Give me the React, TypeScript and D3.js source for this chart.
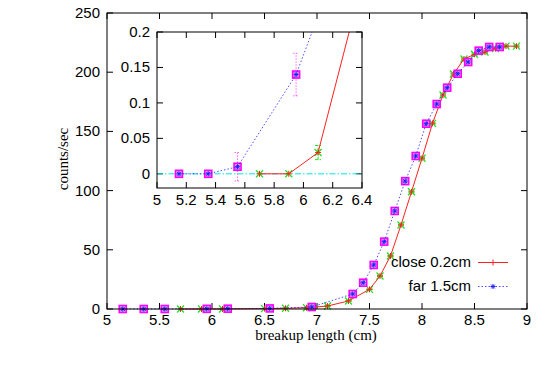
import React from "react";
import * as d3 from "d3";

const closeX = [5.7, 5.9, 6.1, 6.5, 6.7, 6.9, 7.1, 7.3, 7.5, 7.6, 7.7, 7.8, 7.9, 8.0, 8.1, 8.2, 8.3, 8.4, 8.5, 8.6, 8.7, 8.8, 8.9];
const closeY = [0, 0, 0.03, 0.35, 0.6, 1.1, 2.5, 6.8, 16.6, 27.9, 44.8, 71, 99, 127.3, 156.8, 180.7, 198.5, 211.1, 215.1, 217, 219.9, 222, 222];
const closeErr = [0, 0, 0.01, 0.05, 0.08, 0.1, 0.15, 0.25, 0.4, 0.5, 0.6, 0.7, 0.8, 0.9, 0.9, 1, 1, 1, 1, 1, 1, 1, 1];

const farX = [5.15, 5.35, 5.55, 5.95, 6.15, 6.55, 6.95, 7.34, 7.44, 7.54, 7.64, 7.74, 7.84, 7.94, 8.04, 8.14, 8.24, 8.34, 8.44, 8.54, 8.64, 8.74];
const farY = [0, 0, 0.01, 0.14, 0.25, 0.5, 1.7, 12.7, 22.2, 37.2, 56.9, 82.8, 108, 129.2, 156.5, 173.1, 186.9, 198.7, 208.6, 218.2, 221.3, 221.3];
const farErr = [0, 0, 0.02, 0.03, 0.03, 0.08, 0.15, 0.35, 0.45, 0.55, 0.7, 0.8, 0.9, 0.9, 1, 1, 1, 1, 1, 1, 1, 1];

const mainXTicks = [5, 5.5, 6, 6.5, 7, 7.5, 8, 8.5, 9];
const mainYTicks = [0, 50, 100, 150, 200, 250];
const insetXTicks = [5, 5.2, 5.4, 5.6, 5.8, 6, 6.2, 6.4];
const insetYTicks = [0, 0.05, 0.1, 0.15, 0.2];

const legendLabels = ["close 0.2cm", "far 1.5cm"];

const RED = "#ff2020";
const GREEN = "#20e020";
const BLUE = "#2020ff";
const MAGENTA = "#ff00ff";
const CYAN = "#00e8e8";
const SANS = "'Liberation Sans', Arial, sans-serif";
const SERIF = "'Liberation Serif', 'Times New Roman', serif";

type Pt = { x: number; y: number; e: number };
const closePts: Pt[] = closeX.map((x, i) => ({ x, y: closeY[i], e: closeErr[i] }));
const farPts: Pt[] = farX.map((x, i) => ({ x, y: farY[i], e: farErr[i] }));

function Plus({ cx, cy, c, s = 4 }: any) {
  return <path d={`M${cx - s},${cy}H${cx + s}M${cx},${cy - s}V${cy + s}`} stroke={c} strokeWidth={1} fill="none" />;
}
function Cross({ cx, cy, c, s = 3.5 }: any) {
  return <path d={`M${cx - s},${cy - s}L${cx + s},${cy + s}M${cx - s},${cy + s}L${cx + s},${cy - s}`} stroke={c} strokeWidth={1.3} fill="none" />;
}
function Star({ cx, cy, c, s = 3.5 }: any) {
  return (
    <path
      d={`M${cx - s},${cy}H${cx + s}M${cx},${cy - s}V${cy + s}M${cx - s * 0.75},${cy - s * 0.75}L${cx + s * 0.75},${cy + s * 0.75}M${cx - s * 0.75},${cy + s * 0.75}L${cx + s * 0.75},${cy - s * 0.75}`}
      stroke={c}
      strokeWidth={1}
      fill="none"
    />
  );
}
function Square({ cx, cy, c, s = 3.5 }: any) {
  return <rect x={cx - s} y={cy - s} width={2 * s} height={2 * s} stroke={c} strokeWidth={1.6} fill="#c070f0" fillOpacity={0.6} />;
}

function Series({ xs, ys, clipId }: any) {
  const line = d3.line<Pt>().x((d) => xs(d.x)).y((d) => ys(d.y));
  return (
    <g clipPath={clipId ? `url(#${clipId})` : undefined}>
      {closePts.map((d, i) => {
        const y1 = ys(d.y - d.e), y2 = ys(d.y + d.e), cx = xs(d.x);
        return (
          <g key={"ce" + i}>
            {d.e > 0 && (
              <path d={`M${cx},${y1}V${y2}M${cx - 3},${y1}H${cx + 3}M${cx - 3},${y2}H${cx + 3}`} stroke={GREEN} strokeWidth={1} strokeDasharray="3,1.5" fill="none" />
            )}
            <Cross cx={cx} cy={ys(d.y)} c={GREEN} />
          </g>
        );
      })}
      <path d={line(closePts) || ""} stroke={RED} strokeWidth={1} fill="none" />
      {closePts.map((d, i) => (
        <Plus key={"cp" + i} cx={xs(d.x)} cy={ys(d.y)} c={RED} s={3} />
      ))}
      {farPts.map((d, i) => {
        const y1 = ys(d.y - d.e), y2 = ys(d.y + d.e), cx = xs(d.x);
        return (
          <g key={"fe" + i}>
            {d.e > 0 && (
              <path d={`M${cx},${y1}V${y2}M${cx - 3},${y1}H${cx + 3}M${cx - 3},${y2}H${cx + 3}`} stroke={MAGENTA} strokeOpacity={0.6} strokeWidth={1} strokeDasharray="1.5,1.5" fill="none" />
            )}
            <Square cx={cx} cy={ys(d.y)} c={MAGENTA} />
          </g>
        );
      })}
      <path d={line(farPts) || ""} stroke={BLUE} strokeOpacity={0.8} strokeWidth={1} strokeDasharray="1.5,2" fill="none" />
      {farPts.map((d, i) => (
        <Star key={"fp" + i} cx={xs(d.x)} cy={ys(d.y)} c={BLUE} s={2.5} />
      ))}
    </g>
  );
}

export default function App() {
  const W = 545, H = 382;
  const mx = d3.scaleLinear().domain([5, 9]).range([107, 527]);
  const my = d3.scaleLinear().domain([0, 250]).range([309, 13]);
  const ix = d3.scaleLinear().domain([5, 6.4]).range([157, 362]);
  const iy = d3.scaleLinear().domain([-0.02, 0.2]).range([188, 32]);
  const tl = 6;

  return (
    <svg width={W} height={H} style={{ position: "absolute", left: 0, top: 0 }}>
      <rect width={W} height={H} fill="#fff" />
      <defs>
        <clipPath id="insetClip">
          <rect x={157} y={32} width={205} height={156} />
        </clipPath>
      </defs>

      <g stroke="#000" strokeWidth={1}>
        {mainXTicks.map((t) => (
          <g key={"mx" + t}>
            <line x1={mx(t)} x2={mx(t)} y1={309} y2={309 - tl} />
            <line x1={mx(t)} x2={mx(t)} y1={13} y2={13 + tl} />
          </g>
        ))}
        {mainYTicks.map((t) => (
          <g key={"my" + t}>
            <line x1={107} x2={107 + tl} y1={my(t)} y2={my(t)} />
            <line x1={527} x2={527 - tl} y1={my(t)} y2={my(t)} />
          </g>
        ))}
      </g>
      <g fontFamily={SANS} fontSize={15} fill="#000">
        {mainXTicks.map((t) => (
          <text key={"mxl" + t} x={mx(t)} y={325} textAnchor="middle">
            {d3.format("")(t)}
          </text>
        ))}
        {mainYTicks.map((t) => (
          <text key={"myl" + t} x={100} y={my(t) + 5} textAnchor="end">
            {t}
          </text>
        ))}
      </g>
      <text x={316} y={340} textAnchor="middle" fontFamily={SERIF} fontSize={15}>
        breakup length (cm)
      </text>
      <text transform="translate(68,159) rotate(-90)" textAnchor="middle" fontFamily={SERIF} fontSize={15}>
        counts/sec
      </text>

      <Series xs={mx} ys={my} />

      <g fontFamily={SANS} fontSize={15}>
        <text x={471} y={267} textAnchor="end">{legendLabels[0]}</text>
        <line x1={478} x2={508} y1={262.5} y2={262.5} stroke={RED} strokeWidth={1} />
        <Plus cx={493} cy={262.5} c={RED} s={3} />
        <text x={471} y={291} textAnchor="end">{legendLabels[1]}</text>
        <line x1={478} x2={508} y1={286.5} y2={286.5} stroke={BLUE} strokeOpacity={0.8} strokeWidth={1} strokeDasharray="1.5,2" />
        <Star cx={493} cy={286.5} c={BLUE} s={2.5} />
      </g>

      <rect x={107} y={13} width={420} height={296} fill="none" stroke="#000" strokeWidth={1} />

      <rect x={157} y={32} width={205} height={156} fill="#fff" />
      <g stroke="#000" strokeWidth={1}>
        {insetXTicks.map((t) => (
          <g key={"ix" + t}>
            <line x1={ix(t)} x2={ix(t)} y1={188} y2={188 - tl} />
            <line x1={ix(t)} x2={ix(t)} y1={32} y2={32 + tl} />
          </g>
        ))}
        {insetYTicks.map((t) => (
          <g key={"iy" + t}>
            <line x1={157} x2={157 + tl} y1={iy(t)} y2={iy(t)} />
            <line x1={362} x2={362 - tl} y1={iy(t)} y2={iy(t)} />
          </g>
        ))}
      </g>
      <g fontFamily={SANS} fontSize={15} fill="#000">
        {insetXTicks.map((t) => (
          <text key={"ixl" + t} x={ix(t)} y={205} textAnchor="middle">
            {d3.format("")(t)}
          </text>
        ))}
        {insetYTicks.map((t) => (
          <text key={"iyl" + t} x={150} y={iy(t) + 5} textAnchor="end">
            {d3.format("")(t)}
          </text>
        ))}
      </g>
      <line x1={157} x2={362} y1={iy(0)} y2={iy(0)} stroke={CYAN} strokeWidth={1} strokeDasharray="6,2,1.5,2" />
      <Series xs={ix} ys={iy} clipId="insetClip" />
      <rect x={157} y={32} width={205} height={156} fill="none" stroke="#000" strokeWidth={1} />
    </svg>
  );
}
